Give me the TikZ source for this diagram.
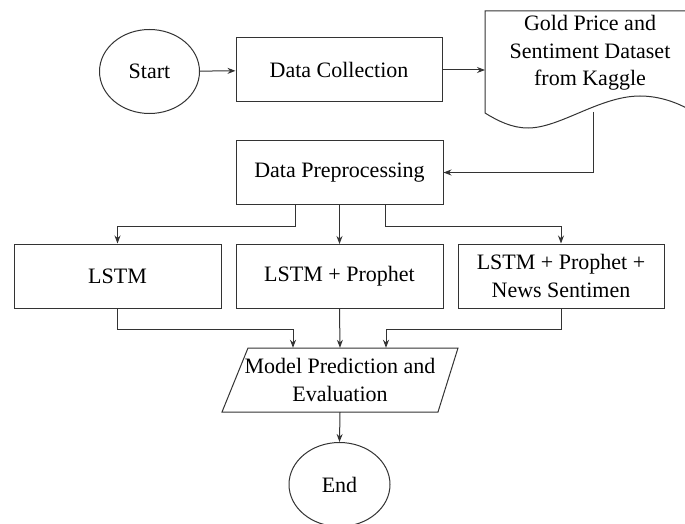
\documentclass[tikz,border=0pt]{standalone}
\usepackage{fontspec}
\setmainfont{Liberation Serif}
\usetikzlibrary{arrows.meta,shapes.geometric,calc}
\begin{document}
\begin{tikzpicture}[x=1pt,y=-1pt,
  line/.style={draw=black!80,line width=1pt},
  arr/.style={line,-{Stealth[length=8pt,width=6pt]}},
  box/.style={line,rectangle,inner sep=0pt,align=center,font=\fontsize{22}{27.5}\selectfont},
  oval/.style={line,ellipse,inner sep=0pt,font=\fontsize{22}{27.5}\selectfont},
  txt/.style={inner sep=0pt,align=center,font=\fontsize{22}{27.5}\selectfont}]
\clip (0,0) rectangle (685,524);
\useasboundingbox (0,0) rectangle (685,524);
\fill[white] (0,0) rectangle (685,524);
% nodes
\node[oval,minimum width=100pt,minimum height=84pt] (start) at (149.5,71.5) {Start};
\node[box,minimum width=206pt,minimum height=64pt] (dc) at (339,70) {Data Collection};
% document shape
\draw[line] (485,113) -- (485,11) -- (690,11) -- (690,110)
  .. controls (678,103) and (660,96) .. (640,96)
  .. controls (600,96) and (560,128) .. (528,128)
  .. controls (512,128) and (498,121) .. (485,113) -- cycle;
\node[txt] (doc) at (590,53) {Gold Price and\\Sentiment Dataset\\from Kaggle};
\coordinate (docbot) at (593,112);
\coordinate (docin) at (485,70);
\node[box,minimum width=207pt,minimum height=63pt] (dp) at (339.5,172.5) {Data Preprocessing};
\node[box,minimum width=207pt,minimum height=64pt] (m1) at (117.5,276) {LSTM};
\node[box,minimum width=207pt,minimum height=64pt] (m2) at (339.5,276.5) {LSTM + Prophet};
\node[box,minimum width=206pt,minimum height=64pt] (m3) at (561,276) {LSTM + Prophet +\\News Sentimen};
% parallelogram
\node[txt,minimum width=214pt,minimum height=64pt] (ev) at (340,380) {Model Prediction and\\Evaluation};
\draw[line] (248,348) -- (458,348) -- (438,412) -- (222,412) -- cycle;
\node[oval,minimum width=101pt,minimum height=84pt] (end) at (339.5,484.5) {End};
% connectors
\draw[arr] (start) -- (dc);
\draw[arr] (dc.east) -- (docin);
\draw[arr] (docbot) |- (dp.east);
\draw[arr] ([xshift=-44pt]dp.south) -- ++(0,22) -| (m1.north);
\draw[arr] (dp.south) -- (m2.north);
\draw[arr] ([xshift=46pt]dp.south) -- ++(0,22) -| (m3.north);
\draw[arr] (m1.south) -- ++(0,21) -| ([xshift=-47pt]ev.north);
\draw[arr] (m2.south) -- (ev.north);
\draw[arr] (m3.south) -- ++(0,21) -| ([xshift=46pt]ev.north);
\draw[arr] (ev.south) -- (end.north);
\end{tikzpicture}
\end{document}
